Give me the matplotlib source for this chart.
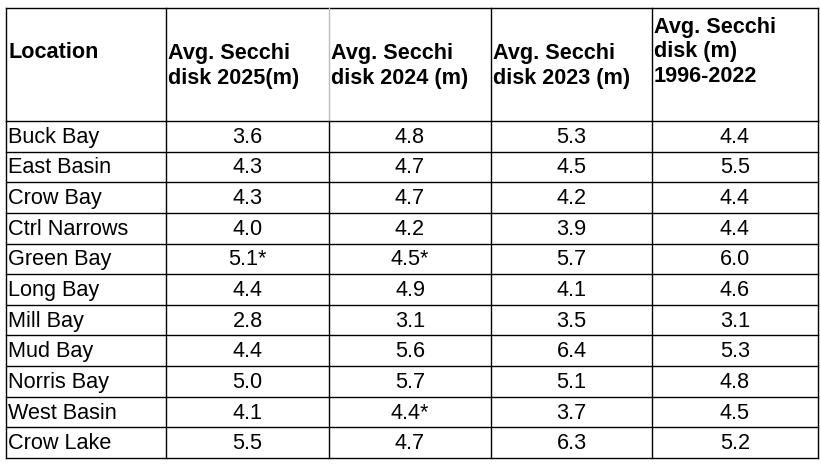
import matplotlib.pyplot as plt

locations = ["Buck Bay", "East Basin", "Crow Bay", "Ctrl Narrows", "Green Bay", "Long Bay",
             "Mill Bay", "Mud Bay", "Norris Bay", "West Basin", "Crow Lake"]
headers = ["Location", "Avg. Secchi\ndisk 2025(m)", "Avg. Secchi\ndisk 2024 (m)",
           "Avg. Secchi\ndisk 2023 (m)", "Avg. Secchi\ndisk (m)\n1996-2022"]
y2025 = ["3.6", "4.3", "4.3", "4.0", "5.1*", "4.4", "2.8", "4.4", "5.0", "4.1", "5.5"]
y2024 = ["4.8", "4.7", "4.7", "4.2", "4.5*", "4.9", "3.1", "5.6", "5.7", "4.4*", "4.7"]
y2023 = ["5.3", "4.5", "4.2", "3.9", "5.7", "4.1", "3.5", "6.4", "5.1", "3.7", "6.3"]
avg = ["4.4", "5.5", "4.4", "4.4", "6.0", "4.6", "3.1", "5.3", "4.8", "4.5", "5.2"]

plt.rcParams['font.family'] = ['Liberation Sans', 'DejaVu Sans']
fig = plt.figure(figsize=(8.21, 4.65), dpi=100)
ax = fig.add_axes([0, 0, 1, 1])
ax.set_xlim(0, 821)
ax.set_ylim(465, 0)
ax.axis('off')

col_x = [6, 166, 329, 491, 652, 818]
top, head_bot, bottom = 8, 121, 458
row_h = (bottom - head_bot) / len(locations)

# borders
for y in [top, bottom]:
    ax.plot([col_x[0], col_x[-1]], [y, y], color='black', lw=1)
for i in range(len(locations)):
    y = head_bot + i * row_h
    ax.plot([col_x[0], col_x[-1]], [y, y], color='black', lw=1)
for i, x in enumerate(col_x):
    c = '#bbbbbb' if i == 2 else 'black'
    ax.plot([x, x], [top, head_bot], color=c, lw=1)
    ax.plot([x, x], [head_bot, bottom], color='black', lw=1)

fs = 15.6
header_y = [52, 66, 66, 66, 52]
for i, h in enumerate(headers):
    ax.text(col_x[i] + 2, header_y[i], h, fontsize=fs, fontweight='bold',
            ha='left', va='center', linespacing=1.25)

cols = [y2025, y2024, y2023, avg]
for r, loc in enumerate(locations):
    yc = head_bot + (r + 0.5) * row_h + 1
    ax.text(col_x[0] + 2, yc, loc, fontsize=fs, ha='left', va='center')
    for c, vals in enumerate(cols):
        ax.text((col_x[c + 1] + col_x[c + 2]) / 2, yc, vals[r], fontsize=fs, ha='center', va='center')

fig.savefig('out.png', dpi=100)
